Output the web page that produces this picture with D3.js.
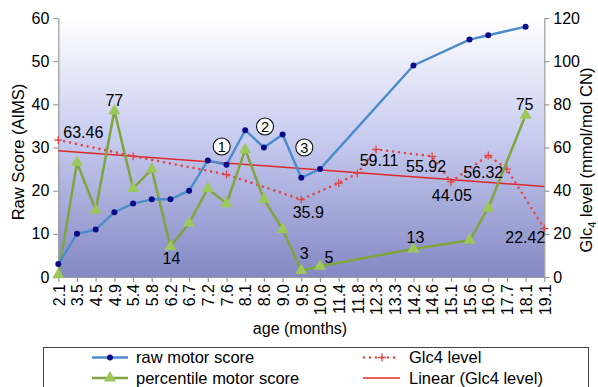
<!DOCTYPE html>
<html>
<head>
<meta charset="utf-8">
<script src="https://cdn.jsdelivr.net/npm/d3@7/dist/d3.min.js"></script>
<style>
  html, body { margin: 0; padding: 0; background: #fff; }
  svg { display: block; }
  text { font-family: "Liberation Sans", Arial, sans-serif; fill: #000; }
</style>
</head>
<body>
<svg id="chart" width="598" height="387"></svg>
<script>
// Age at each visit (months)
const categories = ["2.1","3.5","4.5","4.9","5.4","5.8","6.2","6.7","7.2","7.6","8.1","8.6","9.0","9.5",
  "10.0","11.4","11.8","12.3","13.3","14.2","14.6","15.1","15.6","16.0","17.7","18.1","19.1"];

// Raw motor score (AIMS), left axis
const rawScore = [3,10,11,15,17,18,18,20,27,26,34,30,33,23,
  25,null,null,null,null,49,null,null,55,56,null,58,null];

// Percentile motor score, right axis
const percentile = [1,53,31,77,41,50,14,25,41,34,59,36,22,3,
  5,null,null,null,null,13,null,null,17,32,null,75,null];

// Glc4 level (mmol/mol CN), right axis
const glc4 = [63.46,null,null,null,56,null,null,null,null,47.5,null,null,null,35.9,
  null,43.5,48,59.11,null,null,55.92,44.05,null,56.32,50,null,22.42];

const leftTicks = [0,10,20,30,40,50,60];
const rightTicks = [0,20,40,60,80,100,120];

// Values printed next to their points
const percentileLabels = ["4.9","6.2","9.5","10.0","14.2","18.1"];
const glc4Labels = ["2.1","9.5","12.3","14.6","15.1","16.0","19.1"];

const svg = d3.select("#chart");
const plot = { left: 58.3, right: 544.3, top: 18, bottom: 277 };

const x = d3.scalePoint().domain(categories).range([plot.left, plot.right]).padding(0);
const yL = d3.scaleLinear().domain([0, 60]).range([plot.bottom, plot.top]);
const yR = d3.scaleLinear().domain([0, 120]).range([plot.bottom, plot.top]);

// Plot area background gradient
const defs = svg.append("defs");
const grad = defs.append("linearGradient").attr("id", "bg").attr("x1", 0).attr("y1", 0).attr("x2", 0).attr("y2", 1);
grad.append("stop").attr("offset", "0%").attr("stop-color", "#ffffff");
grad.append("stop").attr("offset", "45%").attr("stop-color", "#c9cdf0");
grad.append("stop").attr("offset", "100%").attr("stop-color", "#8488c4");
svg.append("rect")
  .attr("x", plot.left).attr("y", plot.top)
  .attr("width", plot.right - plot.left).attr("height", plot.bottom - plot.top)
  .attr("fill", "url(#bg)");

// Axes
const axisColor = "#9a9a9a";
function styleAxis(g) {
  g.selectAll("path.domain").attr("stroke", axisColor).attr("stroke-width", 1.2);
  g.selectAll(".tick line").attr("stroke", axisColor).attr("stroke-width", 1.2);
  g.selectAll(".tick text").attr("font-size", 16).attr("fill", "#000")
    .attr("font-family", "'Liberation Sans', Arial, sans-serif");
}

const gL = svg.append("g").attr("transform", `translate(${plot.left},0)`)
  .call(d3.axisLeft(yL).tickValues(leftTicks).tickSize(5).tickSizeOuter(0).tickPadding(4));
styleAxis(gL);

const gR = svg.append("g").attr("transform", `translate(${plot.right},0)`)
  .call(d3.axisRight(yR).tickValues(rightTicks).tickSize(5).tickSizeOuter(0).tickPadding(4));
styleAxis(gR);

const gX = svg.append("g").attr("transform", `translate(0,${plot.bottom})`)
  .call(d3.axisBottom(x).tickSize(5).tickSizeOuter(0));
styleAxis(gX);
gX.selectAll(".tick text")
  .attr("transform", "rotate(-90)")
  .attr("text-anchor", "end")
  .attr("x", -7).attr("y", 0).attr("dy", "0.36em");

// Axis titles
svg.append("text").attr("x", 300).attr("y", 334).attr("text-anchor", "middle")
  .attr("font-size", 16).text("age (months)");
svg.append("text").attr("transform", "translate(24,152) rotate(-90)").attr("text-anchor", "middle")
  .attr("font-size", 16.5).text("Raw Score (AIMS)");
const rt = svg.append("text").attr("transform", "translate(592,160) rotate(-90)").attr("text-anchor", "middle")
  .attr("font-size", 16.5);
rt.append("tspan").text("Glc");
rt.append("tspan").attr("font-size", 11).attr("dy", 4).text("4");
rt.append("tspan").attr("dy", -4).text(" level (mmol/mol CN)");

// Helpers
const pts = (arr) => categories.map((c, i) => ({ c, v: arr[i] })).filter(d => d.v !== null);
const lineL = d3.line().x(d => x(d.c)).y(d => yL(d.v));
const lineR = d3.line().x(d => x(d.c)).y(d => yR(d.v));

const blue = "#4a8ccb", navy = "#0b0b8a";
const green = "#7fa53e", greenFill = "#9cc75a";
const red = "#e04646";

// Linear trend of Glc4 level (least squares over point index)
const gl = categories.map((c, i) => ({ i, v: glc4[i] })).filter(d => d.v !== null);
const mx = d3.mean(gl, d => d.i), my = d3.mean(gl, d => d.v);
const slope = d3.sum(gl, d => (d.i - mx) * (d.v - my)) / d3.sum(gl, d => (d.i - mx) ** 2);
const icpt = my - slope * mx;
const n = categories.length - 1;
svg.append("line")
  .attr("x1", x(categories[0])).attr("y1", yR(icpt))
  .attr("x2", x(categories[n])).attr("y2", yR(icpt + slope * n))
  .attr("stroke", "#dc2a2a").attr("stroke-width", 1.5);

// Glc4 level: dotted line with + markers
const glPts = pts(glc4);
svg.append("path").datum(glPts).attr("d", lineR)
  .attr("fill", "none").attr("stroke", red).attr("stroke-width", 2.6)
  .attr("stroke-linecap", "round").attr("stroke-dasharray", "0 6");
svg.append("g").selectAll("path").data(glPts).join("path")
  .attr("d", d => { const px = x(d.c), py = yR(d.v); return `M${px-4},${py}H${px+4}M${px},${py-4}V${py+4}`; })
  .attr("stroke", red).attr("stroke-width", 1.3);

// Percentile motor score
const pcPts = pts(percentile);
svg.append("path").datum(pcPts).attr("d", lineR)
  .attr("fill", "none").attr("stroke", green).attr("stroke-width", 2.5).attr("stroke-linejoin", "round");
const tri = d3.symbol().type(d3.symbolTriangle).size(64);
svg.append("g").selectAll("path").data(pcPts).join("path")
  .attr("transform", d => `translate(${x(d.c)},${yR(d.v)})`)
  .attr("d", tri).attr("fill", greenFill);

// Raw motor score
const rwPts = pts(rawScore);
svg.append("path").datum(rwPts).attr("d", lineL)
  .attr("fill", "none").attr("stroke", blue).attr("stroke-width", 2.4).attr("stroke-linejoin", "round");
svg.append("g").selectAll("circle").data(rwPts).join("circle")
  .attr("cx", d => x(d.c)).attr("cy", d => yL(d.v)).attr("r", 3).attr("fill", navy);

// Value labels
const pcOffsets = { "4.9": [0,-5,"middle"], "6.2": [1,17,"middle"], "9.5": [3,-12,"middle"],
  "10.0": [9,-3,"middle"], "14.2": [2,-6,"middle"], "18.1": [-1,-5,"middle"] };
const glOffsets = { "2.1": [5,-2,"start"], "9.5": [7,18,"middle"], "12.3": [3,17,"middle"],
  "14.6": [-6,15.5,"middle"], "15.1": [1,19,"middle"], "16.0": [-5,23,"middle"], "19.1": [1,14.5,"end"] };
const fmt = v => String(v);
percentileLabels.forEach(c => {
  const i = categories.indexOf(c), o = pcOffsets[c];
  svg.append("text").attr("x", x(c) + o[0]).attr("y", yR(percentile[i]) + o[1])
    .attr("text-anchor", o[2]).attr("font-size", 16).text(fmt(percentile[i]));
});
glc4Labels.forEach(c => {
  const i = categories.indexOf(c), o = glOffsets[c];
  svg.append("text").attr("x", x(c) + o[0]).attr("y", yR(glc4[i]) + o[1])
    .attr("text-anchor", o[2]).attr("font-size", 16).text(fmt(glc4[i]));
});

// Circled phase markers
const phases = [{ t: "1", cx: 221.7, cy: 146.5 }, { t: "2", cx: 265, cy: 126.5 }, { t: "3", cx: 304.3, cy: 147.5 }];
const ph = svg.append("g").selectAll("g").data(phases).join("g")
  .attr("transform", d => `translate(${d.cx},${d.cy})`);
ph.append("circle").attr("r", 8.5).attr("fill", "#fff").attr("stroke", "#111").attr("stroke-width", 1.1);
ph.append("text").attr("text-anchor", "middle").attr("dy", "0.36em").attr("font-size", 14.5).text(d => d.t);

// Legend
const lg = svg.append("g");
lg.append("rect").attr("x", 43.5).attr("y", 347.5).attr("width", 545).attr("height", 60)
  .attr("fill", "#fff").attr("stroke", "#444").attr("stroke-width", 1);
const legendItems = [
  { label: "raw motor score", x: 92, y: 357.5, kind: "raw" },
  { label: "percentile motor score", x: 92, y: 378, kind: "pct" },
  { label: "Glc4 level", x: 363, y: 357.5, kind: "glc" },
  { label: "Linear (Glc4 level)", x: 363, y: 378, kind: "lin" }
];
legendItems.forEach(it => {
  const g = lg.append("g").attr("transform", `translate(${it.x},${it.y})`);
  if (it.kind === "raw") {
    g.append("line").attr("x1", 0).attr("x2", 36).attr("stroke", blue).attr("stroke-width", 2.4);
    g.append("circle").attr("cx", 18).attr("r", 3).attr("fill", navy);
  } else if (it.kind === "pct") {
    g.append("line").attr("x1", 0).attr("x2", 36).attr("stroke", green).attr("stroke-width", 2.5);
    g.append("path").attr("transform", "translate(18,0)").attr("d", tri).attr("fill", greenFill);
  } else if (it.kind === "glc") {
    g.append("line").attr("x1", 1).attr("x2", 37).attr("stroke", red).attr("stroke-width", 2.6)
      .attr("stroke-linecap", "round").attr("stroke-dasharray", "0 6");
    g.append("path").attr("d", "M15,0H23M19,-4V4").attr("stroke", red).attr("stroke-width", 1.3);
  } else {
    g.append("line").attr("x1", 0).attr("x2", 37).attr("stroke", "#dc2a2a").attr("stroke-width", 1.5);
  }
  g.append("text").attr("x", it.x < 200 ? 44 : 46).attr("dy", "0.35em").attr("font-size", 16.5).text(it.label);
});
</script>
</body>
</html>
